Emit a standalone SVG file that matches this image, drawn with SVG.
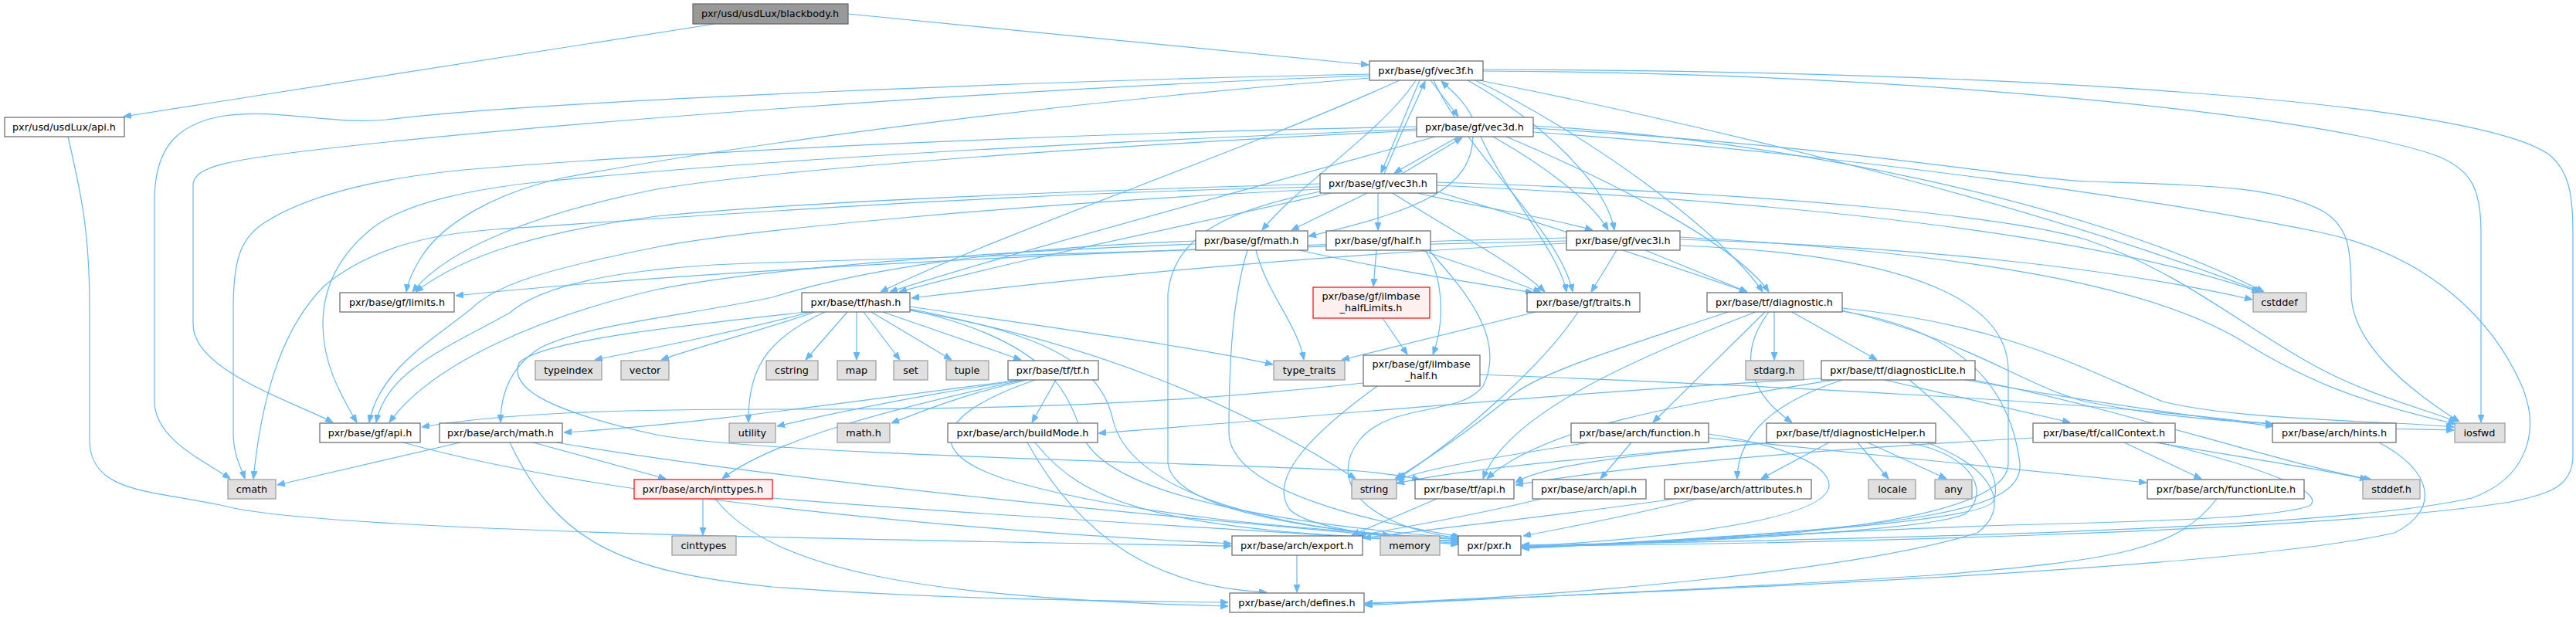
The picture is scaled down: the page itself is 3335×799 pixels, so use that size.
<svg xmlns="http://www.w3.org/2000/svg" width="3335" height="799" viewBox="0 0 3335 799">
<style>
rect{fill:#fff;stroke:#666;stroke-width:1.2}
.ext rect{fill:#e0e0e0;stroke:#999}
.root rect{fill:#999;stroke:#666}
.red rect{fill:#fff0f0;stroke:#f00}
text{font-family:"DejaVu Sans",sans-serif;font-size:12.8px;text-anchor:middle;fill:#000}
#edges path{fill:none;stroke:#63b8ff;stroke-width:1.2;marker-end:url(#a)}
</style>
<defs><marker id="a" markerWidth="10" markerHeight="8" refX="10" refY="4" orient="auto" markerUnits="userSpaceOnUse"><path d="M0,0 L10,4 L0,8 z" fill="#63b8ff" stroke="#63b8ff"/></marker></defs>
<rect x="0" y="0" width="3335" height="799" style="fill:#fff;stroke:none"/>
<g id="edges">
<path d="M925,31 L160,151"/>
<path d="M1098,18 L1772,84"/>
<path d="M88,177 C105,250 116,300 116,400 L116,570 C116,640 200,635 290,655 C420,690 1200,700 1594,707"/>
<path d="M1773,96 C1400,103 700,130 500,155 C430,162 360,140 290,150 C230,160 200,190 200,260 L200,520 C200,570 270,600 298,620"/>
<path d="M1773,98 C1300,115 700,160 400,195 C300,207 250,215 250,240 L250,420 C250,480 380,520 431,547"/>
<path d="M1773,101 C1400,130 1000,180 730,230 C640,250 570,290 543,337 C535,350 528,365 526,378"/>
<path d="M1812,104 C1600,200 1300,300 1140,378"/>
<path d="M1833,104 C1790,170 1680,240 1634,298"/>
<path d="M1838,104 L1788,224"/>
<path d="M1792,225 C1810,180 1830,140 1845,105"/>
<path d="M1852,104 L1888,151"/>
<path d="M1906,152 C1895,130 1880,118 1866,105"/>
<path d="M1856,104 C1900,200 2020,300 2036,378"/>
<path d="M1900,104 C2000,160 2080,240 2090,298"/>
<path d="M1910,104 C2050,170 2230,300 2282,378"/>
<path d="M1915,104 C2100,140 2600,250 2928,378"/>
<path d="M1920,92 C2500,95 3000,150 3150,200 C3200,218 3212,245 3212,300 L3212,547"/>
<path d="M1920,90 C2600,92 3200,130 3300,200 C3325,220 3331,250 3331,300 L3331,590 C3331,630 3300,640 3250,650 C3000,690 2300,705 1970,707"/>
<path d="M1834,164 C1400,172 900,195 600,220 C500,230 400,250 340,290 C310,310 302,340 302,400 L302,560 C302,590 312,605 317,620"/>
<path d="M1834,167 C1400,185 1000,205 686,237 C600,247 520,265 480,297 C440,330 418,370 418,420 C418,470 440,510 462,547"/>
<path d="M1834,169 C1400,190 1000,220 850,245 C700,275 580,320 534,378"/>
<path d="M1858,177 C1600,250 1300,330 1152,378"/>
<path d="M1907,177 C1905,240 1850,270 1694,306"/>
<path d="M1888,177 L1805,224"/>
<path d="M1815,225 L1893,178"/>
<path d="M1917,177 C1950,250 2020,330 2028,378"/>
<path d="M1933,177 C2000,215 2060,260 2082,298"/>
<path d="M1950,177 C2100,240 2250,320 2290,378"/>
<path d="M1985,163 C2300,180 2700,260 2931,378"/>
<path d="M1985,166 C2400,190 2600,230 2700,235 C2850,240 2950,240 3010,275 C3040,295 3044,320 3044,380 C3044,440 3110,500 3184,546"/>
<path d="M1985,171 C2400,200 2800,260 3000,300 C3150,330 3230,420 3265,500 C3290,560 3270,620 3200,645 C3000,690 2300,700 1970,706"/>
<path d="M1709,242 C1300,250 900,280 641,297 C560,303 480,320 420,370 C370,420 340,500 328,620"/>
<path d="M1709,245 C1300,265 950,300 850,320 C700,350 640,370 610,400 C560,440 490,480 478,547"/>
<path d="M1709,238 C1300,250 1000,265 850,280 C700,300 600,330 538,378"/>
<path d="M1723,250 C1500,300 1300,340 1164,378"/>
<path d="M1770,250 L1672,298"/>
<path d="M1784,250 L1784,298"/>
<path d="M1803,250 C1880,300 1960,340 2000,378"/>
<path d="M1835,250 C1920,270 2000,280 2062,298"/>
<path d="M1860,248 C2000,290 2150,340 2262,378"/>
<path d="M1860,240 C2300,260 2700,300 2925,378"/>
<path d="M1860,236 C2300,250 2600,280 2700,310 C2820,350 2900,420 2990,470 C3060,510 3140,530 3181,546"/>
<path d="M1709,248 C1600,270 1520,300 1512,380 L1512,600 C1520,660 1700,690 1888,698"/>
<path d="M2028,312 C1700,318 1300,330 1000,340 C800,345 700,370 660,405 C580,450 500,480 487,547"/>
<path d="M2028,308 C1500,320 900,350 590,383"/>
<path d="M2028,315 C1700,330 1400,360 1180,386"/>
<path d="M2093,324 L2060,378"/>
<path d="M2130,324 L2262,378"/>
<path d="M2175,310 C2500,320 2750,350 2916,388"/>
<path d="M2175,307 C2600,330 2800,380 2900,440 C2980,490 3050,520 3179,549"/>
<path d="M2175,318 C2500,330 2600,400 2600,480 L2600,600 C2600,660 2400,700 1970,708"/>
<path d="M1548,312 C1250,322 1080,360 1000,385 C880,410 760,420 700,450 C660,475 648,510 648,547"/>
<path d="M1548,316 C1300,325 1000,345 850,375 C700,410 560,470 504,547"/>
<path d="M1682,324 C1800,350 1900,365 1985,379"/>
<path d="M1626,324 C1640,380 1680,420 1688,466"/>
<path d="M1615,324 C1598,380 1591,450 1591,560 C1591,640 1800,680 1890,695"/>
<path d="M1782,324 L1778,371"/>
<path d="M1840,324 C1900,345 1950,360 1995,379"/>
<path d="M1845,324 C1870,360 1870,420 1855,459"/>
<path d="M1850,324 C1900,380 1950,440 1920,500 C1890,540 1800,520 1760,570 C1720,620 1760,680 1889,697"/>
<path d="M1790,412 L1822,459"/>
<path d="M1765,496 C1500,525 1300,530 1000,530 C800,530 650,535 546,553"/>
<path d="M1916,485 C2300,500 2700,520 2900,545 C3000,555 3100,555 3177,557"/>
<path d="M1783,500 C1700,560 1640,620 1670,660 C1700,690 1850,700 1888,704"/>
<path d="M1988,404 L1737,466"/>
<path d="M2043,404 C2000,470 1900,560 1810,620"/>
<path d="M1050,404 C950,430 850,450 770,466"/>
<path d="M1055,404 C980,430 900,450 856,466"/>
<path d="M1097,404 L1043,466"/>
<path d="M1109,404 L1109,466"/>
<path d="M1118,404 L1165,466"/>
<path d="M1128,404 L1232,466"/>
<path d="M1143,404 L1322,466"/>
<path d="M1068,404 C990,440 968,480 969,547"/>
<path d="M1178,402 C1400,440 1600,520 1755,620"/>
<path d="M1178,400 C1330,430 1420,460 1440,540 C1460,640 1650,680 1800,693"/>
<path d="M1045,404 C900,420 700,440 672,470 C660,500 700,530 850,563 C1000,590 1600,600 1760,610 C1800,614 1825,618 1838,621"/>
<path d="M1178,401 C1350,440 1380,500 1400,560 C1430,650 1700,680 1888,697"/>
<path d="M1178,397 C1400,430 1550,450 1648,472"/>
<path d="M1367,492 L1336,547"/>
<path d="M1330,492 C1250,510 1200,530 1154,548"/>
<path d="M1325,492 C1200,510 1100,530 1006,552"/>
<path d="M1322,492 C1100,520 900,550 730,560"/>
<path d="M1325,492 C1150,530 1000,570 935,620"/>
<path d="M1340,492 C1230,530 1180,580 1300,620 C1500,680 1800,690 1888,699"/>
<path d="M596,573 L359,628"/>
<path d="M690,573 L862,620"/>
<path d="M660,573 C720,700 800,740 1000,760 C1200,775 1400,778 1590,780"/>
<path d="M720,573 C1000,620 1400,660 1888,702"/>
<path d="M910,646 L910,693"/>
<path d="M926,646 C1000,740 1200,775 1590,785"/>
<path d="M1000,645 C1300,670 1700,690 1888,705"/>
<path d="M522,573 C800,650 1300,690 1594,704"/>
<path d="M1330,573 C1400,700 1500,760 1640,767"/>
<path d="M1340,573 C1400,650 1500,690 1888,700"/>
<path d="M1860,646 L1750,693"/>
<path d="M1995,646 C1900,670 1800,685 1758,694"/>
<path d="M1679,719 L1679,767"/>
<path d="M2168,646 C2000,670 1850,685 1765,697"/>
<path d="M2197,646 C2100,670 2020,685 1972,694"/>
<path d="M2057,573 C1950,590 1850,605 1808,622"/>
<path d="M2112,573 L2072,620"/>
<path d="M2212,567 L2779,625"/>
<path d="M2212,562 C2300,575 2370,600 2368,630 C2360,680 2100,700 1970,708"/>
<path d="M2237,404 C2100,450 2000,480 1960,510 C1900,560 1840,600 1806,620"/>
<path d="M2273,404 C2100,470 1950,540 1920,620"/>
<path d="M2285,404 L2140,547"/>
<path d="M2290,404 C2240,470 2280,520 2320,547"/>
<path d="M2297,404 L2297,466"/>
<path d="M2320,404 L2430,466"/>
<path d="M2385,402 C2550,440 2620,500 2700,520 C2800,540 2880,545 2943,549"/>
<path d="M2385,399 C2600,420 2700,480 2800,520 C2900,545 3100,545 3177,553"/>
<path d="M2385,403 C2560,430 2605,520 2615,600 C2620,660 2500,685 1970,709"/>
<path d="M2375,492 C2200,520 2000,550 1925,620"/>
<path d="M2385,492 C2300,520 2250,560 2249,620"/>
<path d="M2360,490 C2000,510 1700,540 1422,561"/>
<path d="M2545,492 C2700,520 2850,540 2943,552"/>
<path d="M2440,492 L2680,547"/>
<path d="M2555,492 C2750,530 2950,600 3070,621"/>
<path d="M2472,492 C2530,540 2600,610 2580,650 C2560,680 2100,705 1970,709"/>
<path d="M2300,573 C2150,585 2000,600 1962,625"/>
<path d="M2368,573 L2280,620"/>
<path d="M2405,573 L2445,620"/>
<path d="M2418,573 L2520,620"/>
<path d="M2470,573 C2560,590 2575,640 2545,665 C2500,690 2100,705 1970,709"/>
<path d="M2292,573 C2100,590 1900,605 1808,626"/>
<path d="M2495,573 C2590,610 2600,660 2560,690 C2400,740 2000,775 1767,781"/>
<path d="M2750,573 L2850,620"/>
<path d="M2790,573 C2950,600 3020,610 3065,621"/>
<path d="M2632,567 C2300,585 2100,605 1962,628"/>
<path d="M2795,573 C2950,610 3010,640 2990,655 C2950,670 2800,675 2600,680 C2300,690 2100,705 1970,710"/>
<path d="M3080,573 C3150,610 3160,660 3100,690 C2900,735 2300,760 1767,782"/>
<path d="M2870,646 C2820,710 2750,725 2500,745 C2200,765 1900,776 1767,784"/>
</g>
<g id="n_blackbody" class="root"><rect x="897" y="5" width="201" height="26"/><text x="997" y="22">pxr/usd/usdLux/blackbody.h</text></g>
<g id="n_usdluxapi"><rect x="6" y="152" width="155" height="25"/><text x="83" y="169">pxr/usd/usdLux/api.h</text></g>
<g id="n_vec3f"><rect x="1773" y="79" width="147" height="25"/><text x="1846" y="96">pxr/base/gf/vec3f.h</text></g>
<g id="n_vec3d"><rect x="1834" y="152" width="151" height="25"/><text x="1909" y="169">pxr/base/gf/vec3d.h</text></g>
<g id="n_vec3h"><rect x="1709" y="225" width="151" height="25"/><text x="1784" y="242">pxr/base/gf/vec3h.h</text></g>
<g id="n_gfmath"><rect x="1548" y="299" width="145" height="25"/><text x="1620" y="316">pxr/base/gf/math.h</text></g>
<g id="n_half"><rect x="1717" y="299" width="135" height="25"/><text x="1784" y="316">pxr/base/gf/half.h</text></g>
<g id="n_vec3i"><rect x="2028" y="299" width="147" height="25"/><text x="2101" y="316">pxr/base/gf/vec3i.h</text></g>
<g id="n_limits"><rect x="440" y="379" width="148" height="25"/><text x="514" y="396">pxr/base/gf/limits.h</text></g>
<g id="n_hash"><rect x="1038" y="379" width="140" height="25"/><text x="1108" y="396">pxr/base/tf/hash.h</text></g>
<g id="n_halflimits" class="red"><rect x="1700" y="372" width="151" height="40"/><text x="1775" y="388">pxr/base/gf/ilmbase</text><text x="1775" y="403">_halfLimits.h</text></g>
<g id="n_traits"><rect x="1977" y="379" width="146" height="25"/><text x="2050" y="396">pxr/base/gf/traits.h</text></g>
<g id="n_diagnostic"><rect x="2210" y="379" width="175" height="25"/><text x="2297" y="396">pxr/base/tf/diagnostic.h</text></g>
<g id="n_cstddef" class="ext"><rect x="2917" y="379" width="69" height="25"/><text x="2951" y="396">cstddef</text></g>
<g id="n_typeindex" class="ext"><rect x="693" y="467" width="86" height="25"/><text x="736" y="484">typeindex</text></g>
<g id="n_vector" class="ext"><rect x="804" y="467" width="62" height="25"/><text x="835" y="484">vector</text></g>
<g id="n_cstring" class="ext"><rect x="992" y="467" width="67" height="25"/><text x="1025" y="484">cstring</text></g>
<g id="n_map" class="ext"><rect x="1084" y="467" width="50" height="25"/><text x="1109" y="484">map</text></g>
<g id="n_set" class="ext"><rect x="1157" y="467" width="44" height="25"/><text x="1179" y="484">set</text></g>
<g id="n_tuple" class="ext"><rect x="1225" y="467" width="55" height="25"/><text x="1252" y="484">tuple</text></g>
<g id="n_tf"><rect x="1305" y="467" width="117" height="25"/><text x="1363" y="484">pxr/base/tf/tf.h</text></g>
<g id="n_typetraits" class="ext"><rect x="1649" y="467" width="92" height="25"/><text x="1695" y="484">type_traits</text></g>
<g id="n_ilmhalf"><rect x="1765" y="460" width="151" height="40"/><text x="1840" y="476">pxr/base/gf/ilmbase</text><text x="1840" y="491">_half.h</text></g>
<g id="n_stdarg" class="ext"><rect x="2260" y="467" width="75" height="25"/><text x="2297" y="484">stdarg.h</text></g>
<g id="n_diaglite"><rect x="2358" y="467" width="199" height="25"/><text x="2457" y="484">pxr/base/tf/diagnosticLite.h</text></g>
<g id="n_gfapi"><rect x="414" y="548" width="130" height="25"/><text x="479" y="565">pxr/base/gf/api.h</text></g>
<g id="n_archmath"><rect x="569" y="548" width="159" height="25"/><text x="648" y="565">pxr/base/arch/math.h</text></g>
<g id="n_utility" class="ext"><rect x="944" y="548" width="60" height="25"/><text x="974" y="565">utility</text></g>
<g id="n_mathh" class="ext"><rect x="1084" y="548" width="68" height="25"/><text x="1118" y="565">math.h</text></g>
<g id="n_buildmode"><rect x="1227" y="548" width="194" height="25"/><text x="1324" y="565">pxr/base/arch/buildMode.h</text></g>
<g id="n_function"><rect x="2034" y="548" width="178" height="25"/><text x="2123" y="565">pxr/base/arch/function.h</text></g>
<g id="n_diaghelper"><rect x="2287" y="548" width="219" height="25"/><text x="2396" y="565">pxr/base/tf/diagnosticHelper.h</text></g>
<g id="n_callcontext"><rect x="2632" y="548" width="184" height="25"/><text x="2724" y="565">pxr/base/tf/callContext.h</text></g>
<g id="n_hints"><rect x="2942" y="548" width="160" height="25"/><text x="3022" y="565">pxr/base/arch/hints.h</text></g>
<g id="n_iosfwd" class="ext"><rect x="3178" y="548" width="65" height="25"/><text x="3210" y="565">iosfwd</text></g>
<g id="n_cmath" class="ext"><rect x="295" y="621" width="62" height="25"/><text x="326" y="638">cmath</text></g>
<g id="n_inttypes" class="red"><rect x="821" y="621" width="179" height="25"/><text x="910" y="638">pxr/base/arch/inttypes.h</text></g>
<g id="n_string" class="ext"><rect x="1750" y="621" width="58" height="25"/><text x="1779" y="638">string</text></g>
<g id="n_tfapi"><rect x="1832" y="621" width="128" height="25"/><text x="1896" y="638">pxr/base/tf/api.h</text></g>
<g id="n_archapi"><rect x="1984" y="621" width="147" height="25"/><text x="2057" y="638">pxr/base/arch/api.h</text></g>
<g id="n_attributes"><rect x="2155" y="621" width="190" height="25"/><text x="2250" y="638">pxr/base/arch/attributes.h</text></g>
<g id="n_locale" class="ext"><rect x="2419" y="621" width="61" height="25"/><text x="2450" y="638">locale</text></g>
<g id="n_any" class="ext"><rect x="2505" y="621" width="48" height="25"/><text x="2529" y="638">any</text></g>
<g id="n_functionlite"><rect x="2780" y="621" width="203" height="25"/><text x="2882" y="638">pxr/base/arch/functionLite.h</text></g>
<g id="n_stddef" class="ext"><rect x="3059" y="621" width="74" height="25"/><text x="3096" y="638">stddef.h</text></g>
<g id="n_cinttypes" class="ext"><rect x="870" y="694" width="83" height="25"/><text x="911" y="711">cinttypes</text></g>
<g id="n_export"><rect x="1595" y="694" width="169" height="25"/><text x="1679" y="711">pxr/base/arch/export.h</text></g>
<g id="n_memory" class="ext"><rect x="1787" y="694" width="77" height="25"/><text x="1825" y="711">memory</text></g>
<g id="n_pxr"><rect x="1888" y="694" width="81" height="25"/><text x="1928" y="711">pxr/pxr.h</text></g>
<g id="n_defines"><rect x="1592" y="768" width="174" height="25"/><text x="1679" y="785">pxr/base/arch/defines.h</text></g>
</svg>
